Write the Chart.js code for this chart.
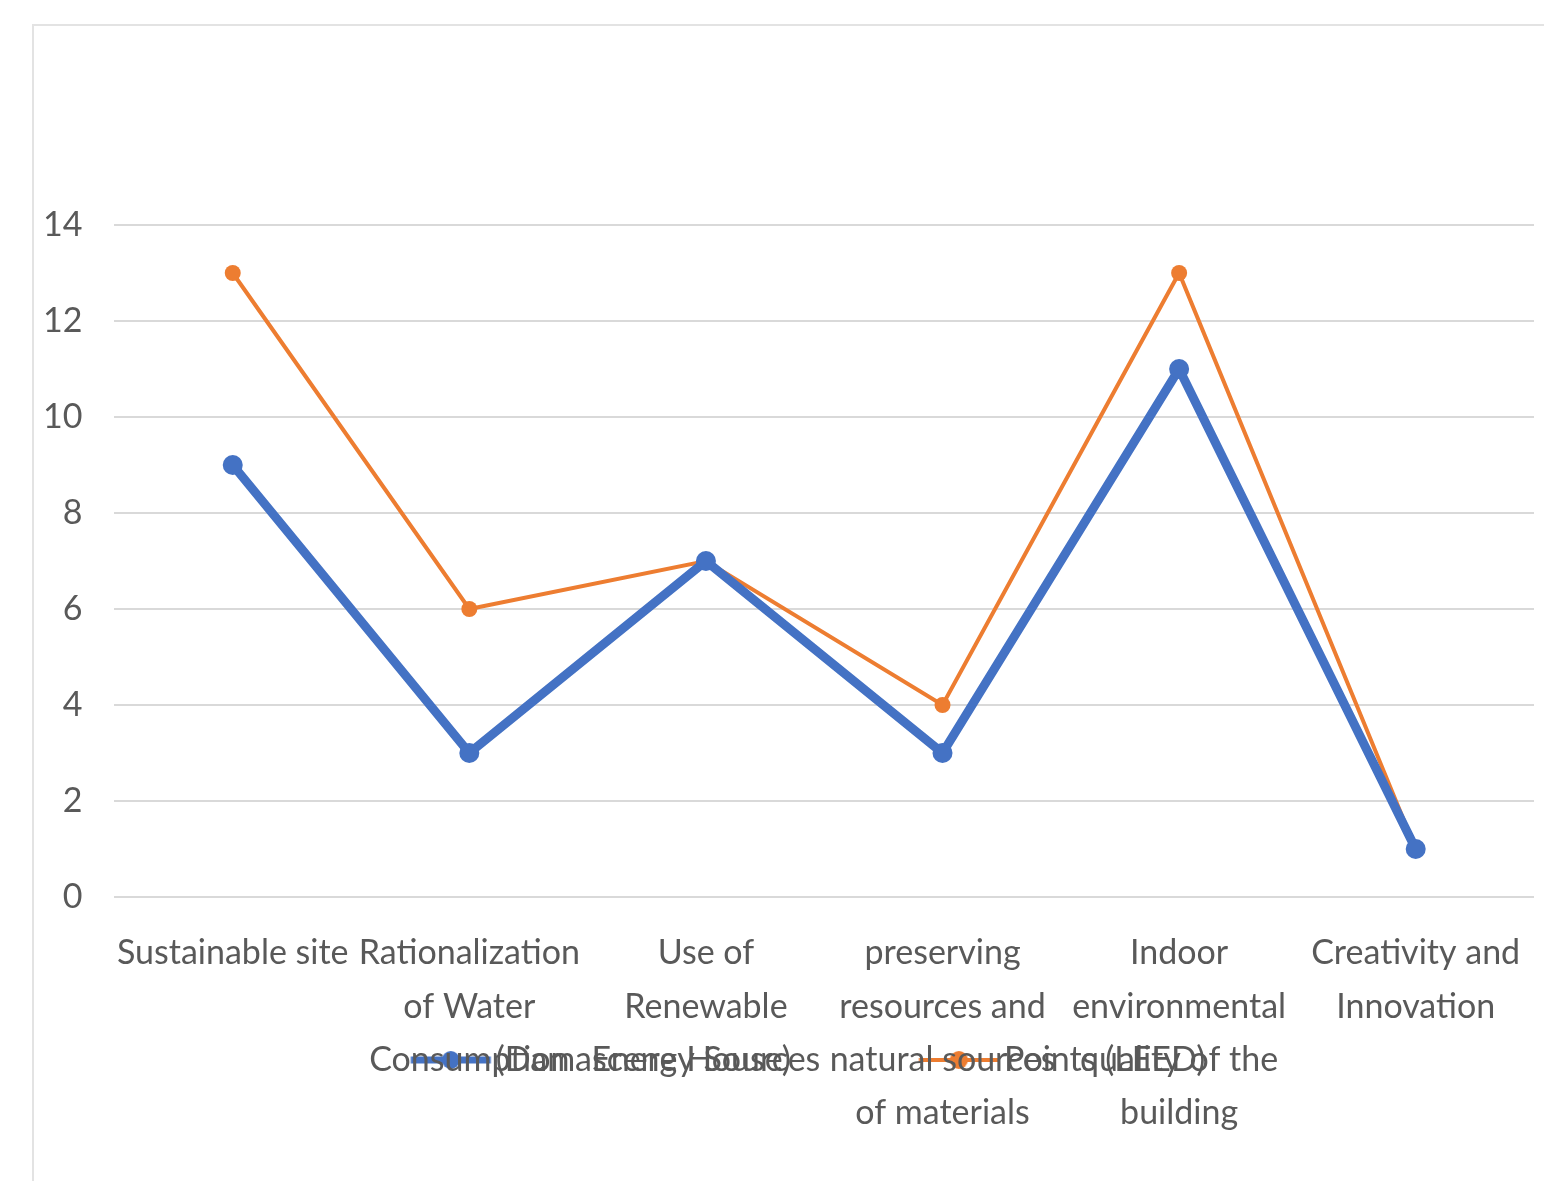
<!DOCTYPE html>
<html>
<head>
<meta charset="utf-8">
<script src="https://cdn.jsdelivr.net/npm/chart.js@4.4.1/dist/chart.umd.min.js"></script>
<style>
  html, body { margin: 0; padding: 0; background: #ffffff; overflow: hidden; }
  #wrap { position: relative; width: 1544px; height: 1181px; }
  #frame { position: absolute; left: 32px; top: 24px; width: 1600px; height: 1300px;
           border: 2px solid #e3e3e3; box-sizing: border-box; }
  #chart { position: absolute; left: 0; top: 0; }
</style>
</head>
<body>
<div id="wrap">
  <div id="frame"></div>
  <canvas id="chart" width="1544" height="1181"></canvas>
</div>
<script>
// LEED categories compared for the Damascene house
const categories = [
  "Sustainable site",
  ["Rationalization", "of Water", "Consumption"],
  ["Use of", "Renewable", "Energy Sources"],
  ["preserving", "resources and", "natural sources", "of materials"],
  ["Indoor", "environmental", "quality of the", "building"],
  ["Creativity and", "Innovation"]
];
const damasceneHouse = [9, 3, 7, 3, 11, 1];
const leedPoints = [13, 6, 7, 4, 13, 1];
const yTicks = [0, 2, 4, 6, 8, 10, 12, 14];

const seriesNames = ["(Damascene House)", "Points (LEED)"];
const BLUE = "#4472C4";
const ORANGE = "#ED7D31";
const TEXT = "#595959";
const GRID = "#d9d9d9";
const FONT = "Lato, 'Open Sans', sans-serif";
const FONT_SIZE = 34;
const LEGEND_GAP = 59;
const KEY_BOX = 137;

// legend key: an 80px line with a round marker that ends just before the text.
// The image is twice the key box wide so it stays centred on the box.
function swatch(color, lw, r) {
  const c = document.createElement("canvas");
  c.width = KEY_BOX * 2; c.height = 24;
  const g = c.getContext("2d");
  const x1 = KEY_BOX / 2 + KEY_BOX + 12;
  const x0 = x1 - 80;
  g.strokeStyle = color; g.lineWidth = lw;
  g.beginPath(); g.moveTo(x0, 12); g.lineTo(x1, 12); g.stroke();
  g.fillStyle = color;
  g.beginPath(); g.arc((x0 + x1) / 2, 12, r, 0, Math.PI * 2); g.fill();
  return c;
}

new Chart(document.getElementById("chart"), {
  type: "line",
  data: {
    labels: categories,
    datasets: [
      {
        label: seriesNames[0],
        data: damasceneHouse,
        borderColor: BLUE,
        backgroundColor: BLUE,
        borderWidth: 9,
        pointRadius: 10,
        pointHoverRadius: 10,
        pointBorderWidth: 0,
        tension: 0
      },
      {
        label: seriesNames[1],
        data: leedPoints,
        borderColor: ORANGE,
        backgroundColor: ORANGE,
        borderWidth: 4,
        pointRadius: 8,
        pointHoverRadius: 8,
        pointBorderWidth: 0,
        tension: 0
      }
    ]
  },
  options: {
    responsive: false,
    animation: false,
    layout: { padding: { top: 225, left: 11, right: 8, bottom: 94 } },
    plugins: {
      tooltip: { enabled: false },
      legend: {
        position: "bottom",
        labels: {
          usePointStyle: true,
          pointStyleWidth: KEY_BOX,
          padding: LEGEND_GAP,
          color: TEXT,
          font: { family: FONT, size: FONT_SIZE },
          generateLabels(chart) {
            return chart.data.datasets.map((ds, i) => ({
              text: ds.label,
              fontColor: TEXT,
              pointStyle: swatch(ds.borderColor, i === 0 ? 7 : 4, 9),
              datasetIndex: i,
              hidden: false,
              lineWidth: 0
            }));
          }
        }
      }
    },
    scales: {
      x: {
        offset: true,
        grid: { display: false },
        border: { display: false },
        ticks: {
          color: TEXT,
          font: { family: FONT, size: FONT_SIZE, lineHeight: 1.56 },
          padding: 22,
          maxRotation: 0,
          autoSkip: false
        },
        afterFit(scale) {
          // the legend sits among the wrapped category names, so the axis box
          // is kept short and its labels are allowed to run past it
          scale.height = 87;
          scale._computeLabelArea = () => undefined;
        }
      },
      y: {
        min: 0,
        max: 14,
        afterBuildTicks(scale) { scale.ticks = yTicks.map(v => ({ value: v })); },
        grid: { color: GRID, lineWidth: 2, drawTicks: false },
        border: { display: false },
        ticks: {
          color: TEXT,
          font: { family: FONT, size: FONT_SIZE },
          padding: 32
        }
      }
    }
  }
});
</script>
</body>
</html>
